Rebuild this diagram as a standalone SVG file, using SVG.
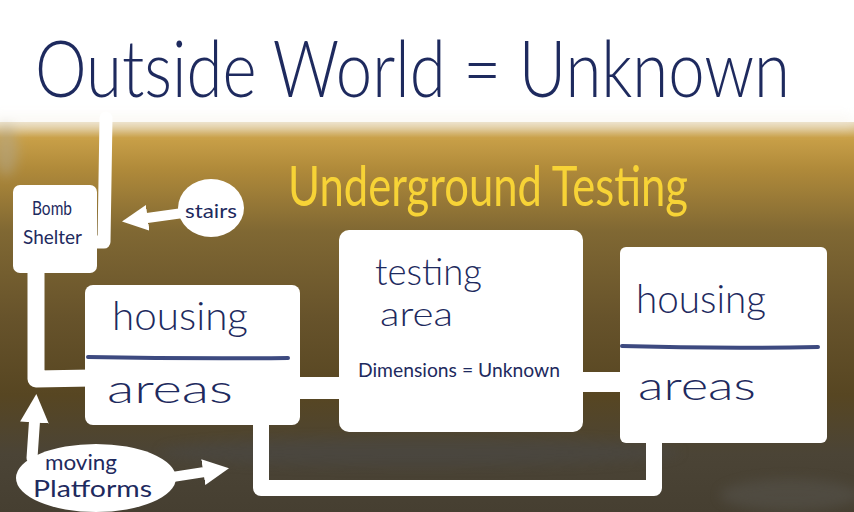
<svg xmlns="http://www.w3.org/2000/svg" width="854" height="512" viewBox="0 0 854 512">
<defs>
<linearGradient id="ground" x1="0" y1="0" x2="0" y2="1">
<stop offset="0" stop-color="#e9dcc0"/>
<stop offset="0.04" stop-color="#c9a048"/>
<stop offset="0.12" stop-color="#b08a3a"/>
<stop offset="0.28" stop-color="#806833"/>
<stop offset="0.5" stop-color="#67532b"/>
<stop offset="0.7" stop-color="#574622"/>
<stop offset="0.85" stop-color="#4b4436"/>
<stop offset="1" stop-color="#463f31"/>
</linearGradient>
<filter id="soft" x="-20%" y="-20%" width="140%" height="140%"><feGaussianBlur stdDeviation="6"/></filter>
<marker id="head" viewBox="0 0 10 10" refX="3" refY="5" markerWidth="2.6" markerHeight="2.6" orient="auto" markerUnits="strokeWidth">
<path d="M0,0 L10,5 L0,10 Z" fill="#fff"/>
</marker>
<style>
.hand{font-family:"Lato","Open Sans","Liberation Sans",sans-serif;font-weight:300;fill:#1e2a5e}
.small{font-weight:400}
.node{fill:#fff}
.wire{fill:none;stroke:#fff;stroke-linecap:round;stroke-linejoin:round}
.rule{stroke:#3d4a80;stroke-width:4;stroke-linecap:round;fill:none}
</style>
</defs>
<rect width="854" height="512" fill="#fff"/>
<rect x="0" y="122" width="854" height="390" fill="url(#ground)"/>
<g filter="url(#soft)" opacity="0.45">
<rect x="-10" y="116" width="864" height="12" fill="#f4efe4"/>
<ellipse cx="6" cy="150" rx="12" ry="26" fill="#b0aa9a"/>
<ellipse cx="420" cy="452" rx="260" ry="14" fill="#4a4a48"/>
<ellipse cx="790" cy="495" rx="70" ry="16" fill="#5a5852"/>
</g>
<text transform="translate(35,97) scale(1,1.2)" class="hand" font-size="66" textLength="755" lengthAdjust="spacingAndGlyphs">Outside World = Unknown</text>
<text x="288" y="206" font-family="Lato,Open Sans,Liberation Sans,sans-serif" font-size="56" fill="#f7d336" textLength="400" lengthAdjust="spacingAndGlyphs">Underground Testing</text>
<g id="connectors">
<path class="wire" stroke-width="13" d="M106,118 L104,242 L94,242"/>
<path class="wire" stroke-width="17" d="M36,268 L36,379 L92,378"/>
<path class="wire" stroke-width="22" d="M292,388 L346,388"/>
<path class="wire" stroke-width="20" d="M576,382 L627,382"/>
<path class="wire" stroke-width="16" d="M654,438 L654,488 L261,488 L261,420"/>
<path class="wire" stroke-width="10" d="M183,213 L140,219" marker-end="url(#head)"/>
<path class="wire" stroke-width="11" d="M32,458 L35,414" marker-end="url(#head)"/>
<path class="wire" stroke-width="10" d="M166,478 L211,471" marker-end="url(#head)"/>
</g>
<g id="bomb-shelter">
<rect class="node" x="13" y="185" width="84" height="88" rx="7"/>
<text x="32" y="215" class="hand small" font-size="19" textLength="40" lengthAdjust="spacingAndGlyphs">Bomb</text>
<text x="23" y="244" class="hand small" font-size="19" textLength="59" lengthAdjust="spacingAndGlyphs">Shelter</text>
</g>
<g id="stairs">
<ellipse class="node" cx="211" cy="208" rx="33" ry="29"/>
<text x="185" y="218" class="hand small" font-size="20" textLength="52" lengthAdjust="spacingAndGlyphs">stairs</text>
</g>
<g id="housing-left">
<rect class="node" x="85" y="285" width="215" height="140" rx="8"/>
<text x="112" y="330" class="hand" font-size="40" textLength="136" lengthAdjust="spacingAndGlyphs">housing</text>
<path class="rule" d="M88,357 Q190,359 288,358"/>
<text x="107" y="403" class="hand" font-size="40" textLength="126" lengthAdjust="spacingAndGlyphs">areas</text>
</g>
<g id="testing-area">
<rect class="node" x="339" y="230" width="244" height="202" rx="10"/>
<text x="375" y="285" class="hand" font-size="37" textLength="107" lengthAdjust="spacingAndGlyphs">testing</text>
<text x="380" y="326" class="hand" font-size="34" textLength="73" lengthAdjust="spacingAndGlyphs">area</text>
<text x="358" y="377" class="hand small" font-size="20" textLength="202" lengthAdjust="spacingAndGlyphs">Dimensions = Unknown</text>
</g>
<g id="housing-right">
<rect class="node" x="620" y="247" width="207" height="196" rx="6"/>
<text x="636" y="313" class="hand" font-size="40" textLength="130" lengthAdjust="spacingAndGlyphs">housing</text>
<path class="rule" d="M622,346 Q720,349 818,347"/>
<text x="638" y="400" class="hand" font-size="40" textLength="118" lengthAdjust="spacingAndGlyphs">areas</text>
</g>
<g id="moving-platforms">
<ellipse class="node" cx="96" cy="478" rx="80" ry="34"/>
<text x="45" y="470" class="hand small" font-size="22" textLength="72" lengthAdjust="spacingAndGlyphs">moving</text>
<text x="33" y="497" class="hand small" font-size="24" textLength="119" lengthAdjust="spacingAndGlyphs">Platforms</text>
</g>
</svg>
